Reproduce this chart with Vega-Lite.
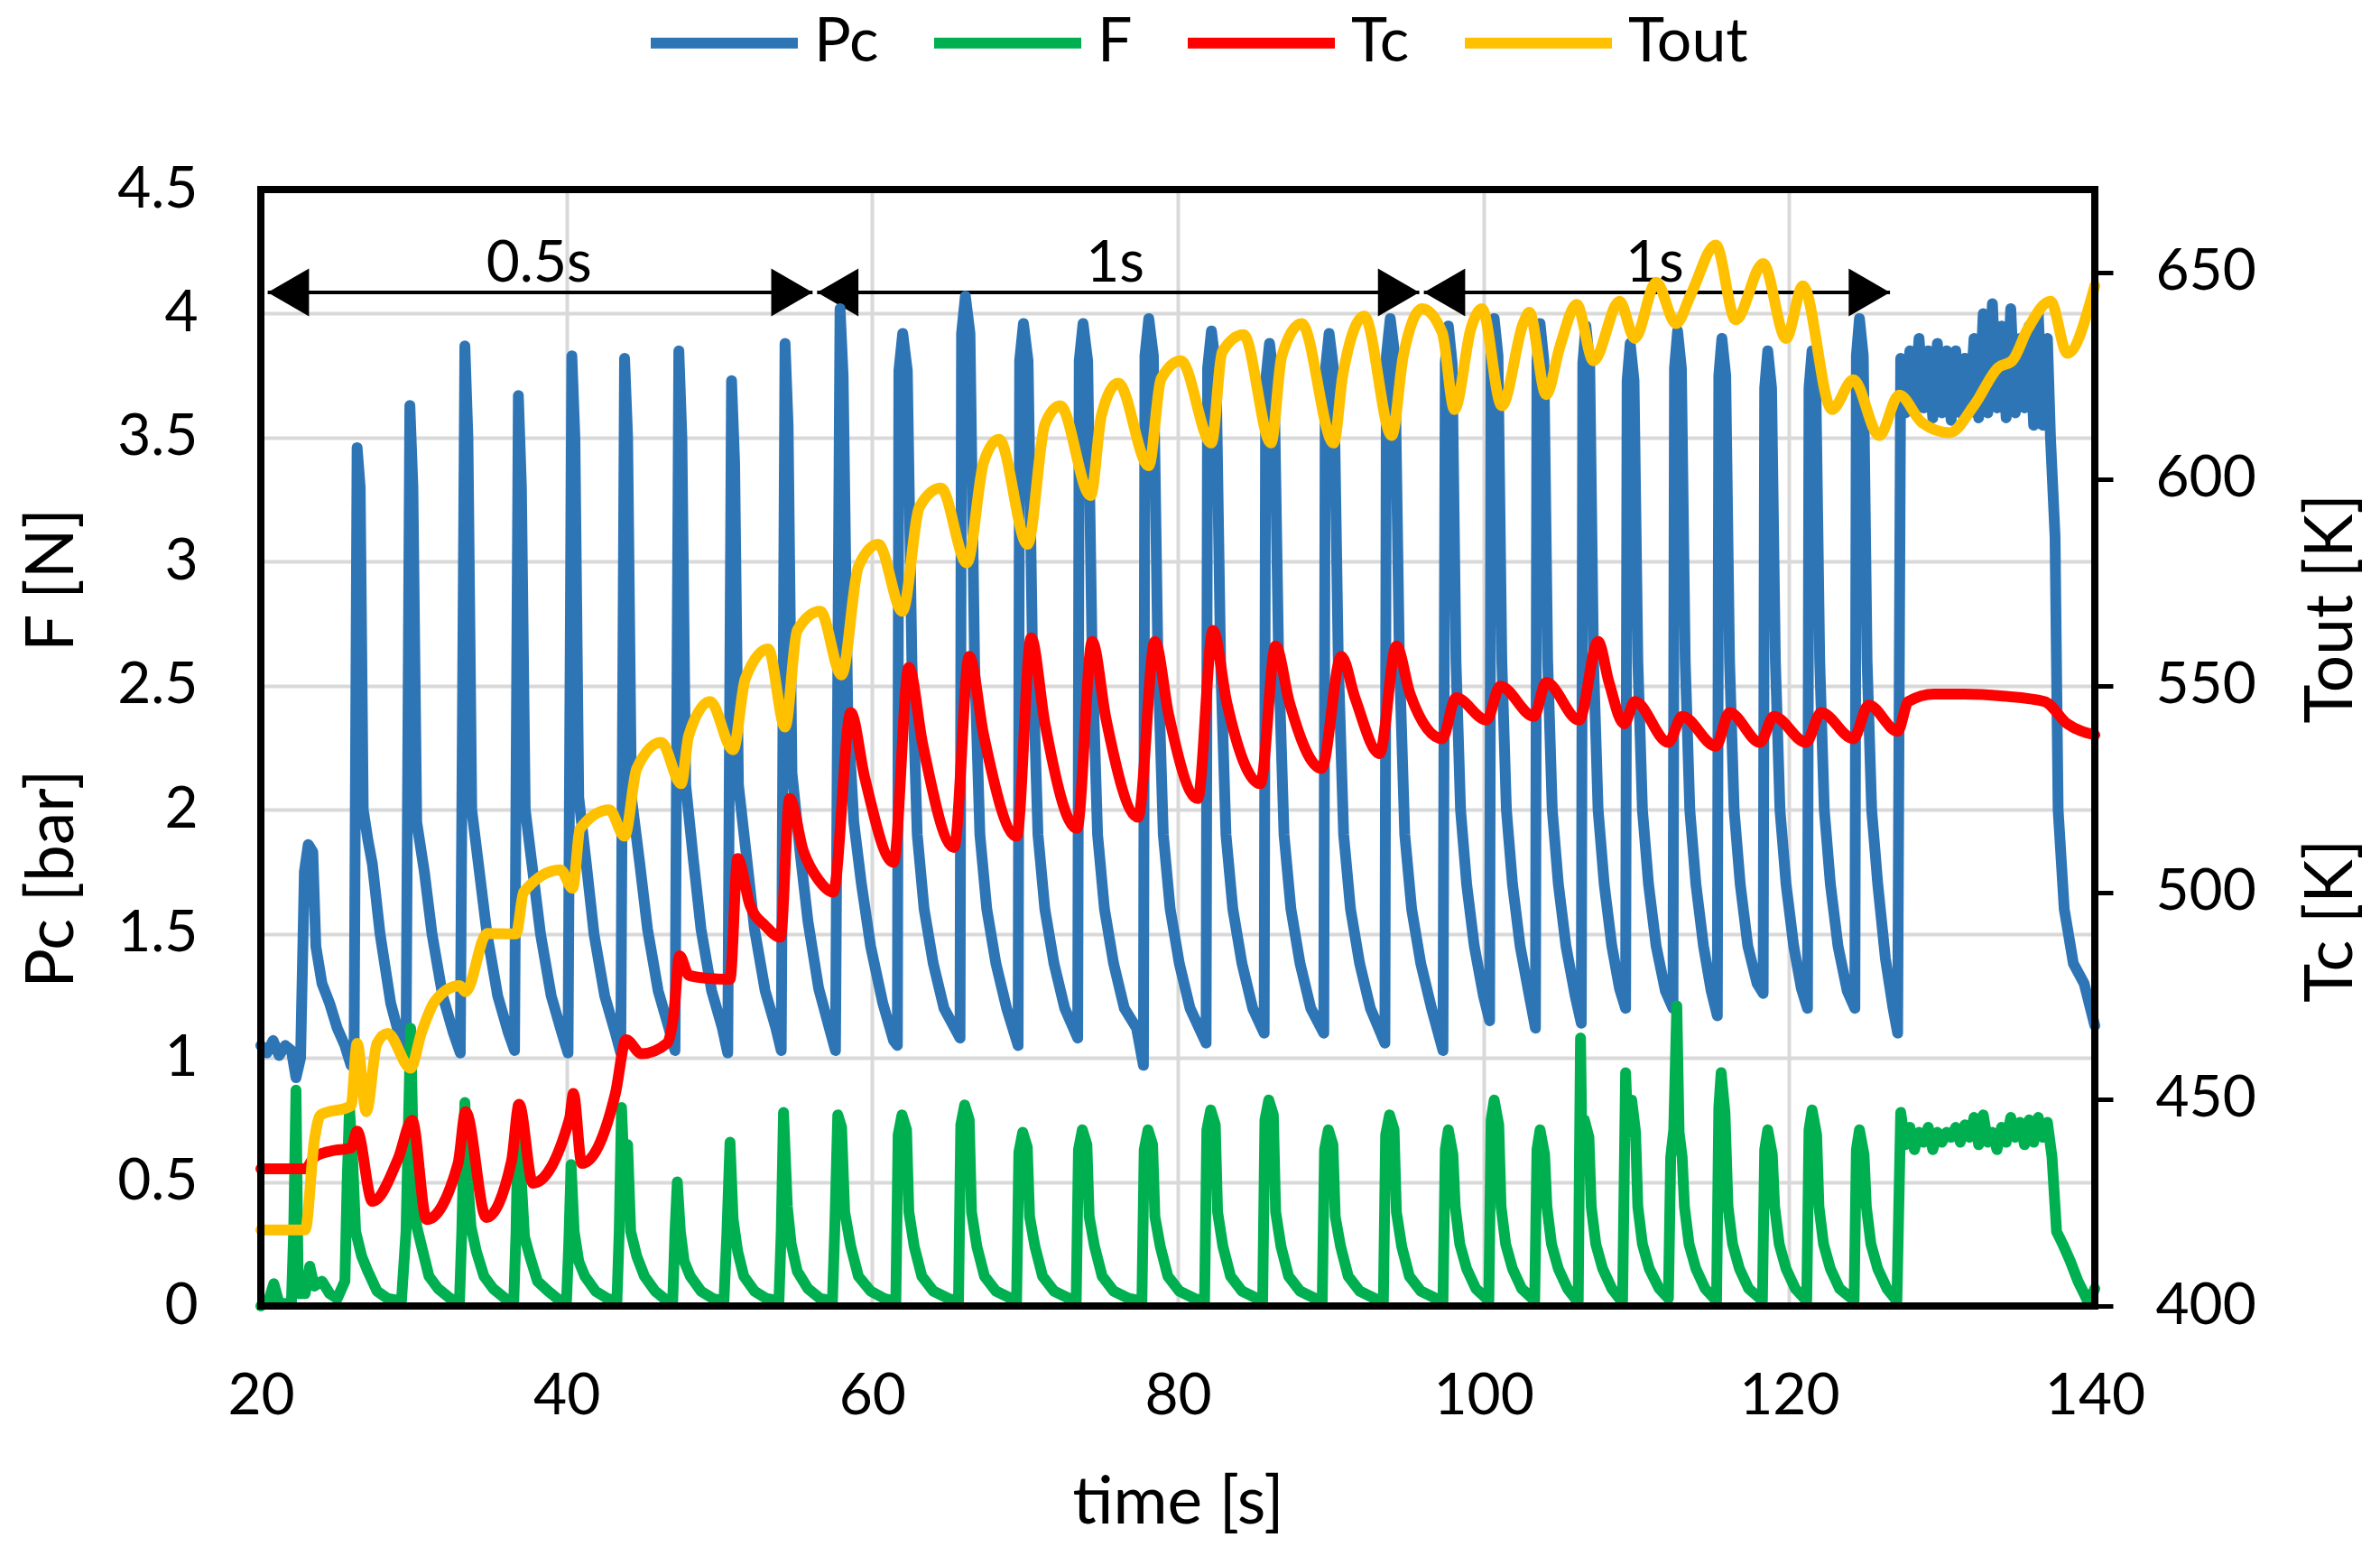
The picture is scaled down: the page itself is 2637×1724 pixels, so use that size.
{
"$schema":"https://vega.github.io/schema/vega-lite/v6.json",
"autosize":{"type":"none"},
"width":2032,"height":1237,
"padding":{"left":289,"top":210,"right":316,"bottom":277},
"background":"white",
"config":{
 "font":"Lato",
 "view":{"stroke":null},
 "axis":{"labelFont":"Lato","titleFont":"Lato","labelColor":"black","titleColor":"black","titleFontWeight":"normal","labelFontSize":64,"titleFontSize":73,"gridColor":"#d9d9d9","gridWidth":4,"domain":false,"ticks":false,"labelFlush":false,"labelOverlap":false},
 "legend":{"labelFont":"Lato","labelFontSize":68,"labelColor":"black"},
 "line":{"strokeWidth":12,"strokeJoin":"round","strokeCap":"round"}
},
"datasets":{
"pc":[
{"t":20,"v":1.05},{"t":20.4,"v":1.02},{"t":20.8,"v":1.07},{"t":21.2,"v":1.01},{"t":21.6,"v":1.05},{"t":22.0,"v":1.03},{"t":22.3,"v":0.92},{"t":22.6,"v":1.0},{"t":22.85,"v":1.75},{"t":23.1,"v":1.86},{"t":23.4,"v":1.83},{"t":23.6,"v":1.45},{"t":24.0,"v":1.3},{"t":24.5,"v":1.22},{"t":25.0,"v":1.12},{"t":25.5,"v":1.05},{"t":25.9,"v":0.97},{"t":26.1,"v":1.0},
{"t":26.3,"v":3.46},{"t":26.5,"v":3.3},{"t":26.7,"v":2.0},{"t":27.0,"v":1.88},{"t":27.3,"v":1.78},{"t":27.8,"v":1.5},{"t":28.5,"v":1.22},{"t":29.1,"v":1.08},{"t":29.5,"v":1.02},
{"t":29.75,"v":3.63},{"t":29.95,"v":3.3},{"t":30.2,"v":1.95},{"t":30.7,"v":1.75},{"t":31.2,"v":1.5},{"t":31.9,"v":1.25},{"t":32.6,"v":1.1},{"t":33.05,"v":1.02},
{"t":33.35,"v":3.87},{"t":33.55,"v":3.5},{"t":33.8,"v":2.0},{"t":34.3,"v":1.75},{"t":34.8,"v":1.5},{"t":35.5,"v":1.25},{"t":36.2,"v":1.1},{"t":36.6,"v":1.03},
{"t":36.85,"v":3.67},{"t":37.05,"v":3.3},{"t":37.3,"v":2.0},{"t":37.8,"v":1.75},{"t":38.3,"v":1.5},{"t":39.0,"v":1.25},{"t":39.7,"v":1.1},{"t":40.1,"v":1.02},
{"t":40.35,"v":3.83},{"t":40.55,"v":3.5},{"t":40.8,"v":2.05},{"t":41.3,"v":1.78},{"t":41.8,"v":1.5},{"t":42.5,"v":1.25},{"t":43.2,"v":1.1},{"t":43.55,"v":1.02},
{"t":43.8,"v":3.82},{"t":44.0,"v":3.5},{"t":44.25,"v":2.05},{"t":44.8,"v":1.78},{"t":45.3,"v":1.52},{"t":46.0,"v":1.27},{"t":46.7,"v":1.12},{"t":47.1,"v":1.03},
{"t":47.35,"v":3.85},{"t":47.55,"v":3.5},{"t":47.8,"v":2.1},{"t":48.3,"v":1.8},{"t":48.8,"v":1.52},{"t":49.5,"v":1.27},{"t":50.2,"v":1.12},{"t":50.55,"v":1.02},
{"t":50.8,"v":3.73},{"t":51.0,"v":3.4},{"t":51.25,"v":2.1},{"t":51.8,"v":1.8},{"t":52.3,"v":1.52},{"t":53.0,"v":1.27},{"t":53.7,"v":1.12},{"t":54.05,"v":1.03},
{"t":54.3,"v":3.88},{"t":54.5,"v":3.55},{"t":54.75,"v":2.15},{"t":55.3,"v":1.82},{"t":55.8,"v":1.55},{"t":56.5,"v":1.28},{"t":57.2,"v":1.12},{"t":57.6,"v":1.03},
{"t":57.9,"v":4.02},{"t":58.1,"v":3.75},{"t":58.4,"v":2.4},{"t":58.8,"v":1.95},{"t":59.3,"v":1.7},{"t":59.9,"v":1.45},{"t":60.7,"v":1.22},{"t":61.4,"v":1.07},{"t":61.65,"v":1.05},
{"t":61.75,"v":3.77},{"t":62.0,"v":3.92},{"t":62.3,"v":3.77},{"t":62.6,"v":2.6},{"t":62.95,"v":1.9},{"t":63.4,"v":1.6},{"t":64.0,"v":1.38},{"t":64.7,"v":1.2},{"t":65.75,"v":1.08},
{"t":65.85,"v":3.92},{"t":66.1,"v":4.07},{"t":66.4,"v":3.92},{"t":66.7,"v":2.6},{"t":67.05,"v":1.9},{"t":67.5,"v":1.6},{"t":68.1,"v":1.38},{"t":68.8,"v":1.2},{"t":69.55,"v":1.05},
{"t":69.65,"v":3.81},{"t":69.9,"v":3.96},{"t":70.2,"v":3.81},{"t":70.5,"v":2.6},{"t":70.85,"v":1.9},{"t":71.3,"v":1.6},{"t":71.9,"v":1.38},{"t":72.6,"v":1.2},{"t":73.45,"v":1.08},
{"t":73.55,"v":3.81},{"t":73.8,"v":3.96},{"t":74.1,"v":3.81},{"t":74.4,"v":2.6},{"t":74.75,"v":1.9},{"t":75.2,"v":1.6},{"t":75.8,"v":1.38},{"t":76.5,"v":1.2},{"t":77.3,"v":1.12},{"t":77.75,"v":0.97},
{"t":77.85,"v":3.83},{"t":78.1,"v":3.98},{"t":78.4,"v":3.83},{"t":78.7,"v":2.6},{"t":79.05,"v":1.9},{"t":79.5,"v":1.6},{"t":80.1,"v":1.38},{"t":80.8,"v":1.2},{"t":81.85,"v":1.06},
{"t":81.95,"v":3.78},{"t":82.2,"v":3.93},{"t":82.5,"v":3.78},{"t":82.8,"v":2.6},{"t":83.15,"v":1.9},{"t":83.6,"v":1.6},{"t":84.2,"v":1.38},{"t":84.9,"v":1.2},{"t":85.65,"v":1.1},
{"t":85.75,"v":3.73},{"t":86.0,"v":3.88},{"t":86.3,"v":3.73},{"t":86.6,"v":2.6},{"t":86.95,"v":1.9},{"t":87.4,"v":1.6},{"t":88.0,"v":1.38},{"t":88.7,"v":1.2},{"t":89.55,"v":1.1},
{"t":89.65,"v":3.77},{"t":89.9,"v":3.92},{"t":90.2,"v":3.77},{"t":90.5,"v":2.6},{"t":90.85,"v":1.9},{"t":91.3,"v":1.6},{"t":91.9,"v":1.38},{"t":92.6,"v":1.2},{"t":93.55,"v":1.06},
{"t":93.65,"v":3.83},{"t":93.9,"v":3.98},{"t":94.2,"v":3.83},{"t":94.5,"v":2.6},{"t":94.85,"v":1.9},{"t":95.3,"v":1.6},{"t":95.9,"v":1.38},{"t":96.6,"v":1.2},{"t":97.35,"v":1.03},
{"t":97.5,"v":3.8},{"t":97.7,"v":3.95},{"t":97.95,"v":3.8},{"t":98.2,"v":2.6},{"t":98.5,"v":2.0},{"t":98.9,"v":1.7},{"t":99.4,"v":1.45},{"t":100.0,"v":1.25},{"t":100.4,"v":1.15},
{"t":100.5,"v":3.83},{"t":100.7,"v":3.98},{"t":100.95,"v":3.83},{"t":101.2,"v":2.6},{"t":101.5,"v":2.0},{"t":101.9,"v":1.7},{"t":102.4,"v":1.45},{"t":103.0,"v":1.25},{"t":103.4,"v":1.12},
{"t":103.5,"v":3.81},{"t":103.7,"v":3.96},{"t":103.95,"v":3.81},{"t":104.2,"v":2.6},{"t":104.5,"v":2.0},{"t":104.9,"v":1.7},{"t":105.4,"v":1.45},{"t":106.0,"v":1.25},{"t":106.4,"v":1.14},
{"t":106.5,"v":3.8},{"t":106.7,"v":3.95},{"t":106.95,"v":3.8},{"t":107.2,"v":2.6},{"t":107.5,"v":2.0},{"t":107.9,"v":1.7},{"t":108.4,"v":1.45},{"t":108.9,"v":1.28},{"t":109.3,"v":1.2},
{"t":109.4,"v":3.73},{"t":109.6,"v":3.88},{"t":109.85,"v":3.73},{"t":110.1,"v":2.6},{"t":110.4,"v":2.0},{"t":110.8,"v":1.7},{"t":111.3,"v":1.45},{"t":111.9,"v":1.27},{"t":112.4,"v":1.2},
{"t":112.5,"v":3.78},{"t":112.7,"v":3.93},{"t":112.95,"v":3.78},{"t":113.2,"v":2.6},{"t":113.5,"v":2.0},{"t":113.9,"v":1.7},{"t":114.4,"v":1.45},{"t":114.9,"v":1.27},{"t":115.3,"v":1.17},
{"t":115.4,"v":3.75},{"t":115.6,"v":3.9},{"t":115.85,"v":3.75},{"t":116.1,"v":2.6},{"t":116.4,"v":2.0},{"t":116.8,"v":1.7},{"t":117.3,"v":1.45},{"t":117.9,"v":1.3},{"t":118.3,"v":1.26},
{"t":118.4,"v":3.7},{"t":118.6,"v":3.85},{"t":118.85,"v":3.7},{"t":119.1,"v":2.6},{"t":119.4,"v":2.0},{"t":119.8,"v":1.7},{"t":120.3,"v":1.45},{"t":120.8,"v":1.28},{"t":121.2,"v":1.2},
{"t":121.3,"v":3.7},{"t":121.5,"v":3.85},{"t":121.75,"v":3.7},{"t":122.0,"v":2.6},{"t":122.3,"v":2.0},{"t":122.7,"v":1.7},{"t":123.2,"v":1.45},{"t":123.8,"v":1.27},{"t":124.3,"v":1.2},
{"t":124.4,"v":3.83},{"t":124.6,"v":3.98},{"t":124.85,"v":3.83},{"t":125.1,"v":2.6},{"t":125.4,"v":2.0},{"t":125.8,"v":1.7},{"t":126.3,"v":1.4},{"t":126.8,"v":1.2},{"t":127.1,"v":1.1},
{"t":127.3,"v":3.82},{"t":127.6,"v":3.6},{"t":127.9,"v":3.85},{"t":128.2,"v":3.6},{"t":128.5,"v":3.9},{"t":128.8,"v":3.62},{"t":129.1,"v":3.85},{"t":129.4,"v":3.58},{"t":129.7,"v":3.88},{"t":130.0,"v":3.6},{"t":130.3,"v":3.85},{"t":130.6,"v":3.57},{"t":130.9,"v":3.85},{"t":131.2,"v":3.6},{"t":131.5,"v":3.82},{"t":131.8,"v":3.6},{"t":132.1,"v":3.9},{"t":132.4,"v":3.58},{"t":132.7,"v":4.0},{"t":133.0,"v":3.6},{"t":133.3,"v":4.04},{"t":133.6,"v":3.62},{"t":133.9,"v":3.95},{"t":134.2,"v":3.58},{"t":134.5,"v":4.02},{"t":134.8,"v":3.6},{"t":135.1,"v":3.9},{"t":135.4,"v":3.62},{"t":135.7,"v":3.95},{"t":136.0,"v":3.55},{"t":136.3,"v":4.0},{"t":136.6,"v":3.55},{"t":136.9,"v":3.9},{"t":137.1,"v":3.5},
{"t":137.4,"v":3.1},{"t":137.6,"v":2.0},{"t":138.0,"v":1.6},{"t":138.6,"v":1.38},{"t":139.3,"v":1.3},{"t":140.0,"v":1.13}
],
"f":[
{"t":20,"v":0.0},{"t":20.5,"v":0.02},{"t":20.85,"v":0.09},{"t":21.2,"v":0.01},{"t":22.0,"v":0.01},{"t":22.15,"v":0.3},{"t":22.3,"v":0.87},{"t":22.45,"v":0.05},{"t":22.9,"v":0.05},{"t":23.2,"v":0.16},{"t":23.5,"v":0.08},{"t":24.0,"v":0.1},{"t":24.5,"v":0.05},{"t":25.0,"v":0.03},{"t":25.5,"v":0.1},
{"t":25.65,"v":0.5},{"t":25.8,"v":0.8},{"t":26.0,"v":0.6},{"t":26.2,"v":0.3},{"t":26.6,"v":0.2},{"t":27.0,"v":0.14},{"t":27.6,"v":0.06},{"t":28.3,"v":0.03},{"t":29.2,"v":0.02},
{"t":29.5,"v":0.3},{"t":29.8,"v":1.12},{"t":30.0,"v":0.55},{"t":30.2,"v":0.32},{"t":30.6,"v":0.22},{"t":31.0,"v":0.12},{"t":31.6,"v":0.07},{"t":32.4,"v":0.03},{"t":33.0,"v":0.02},
{"t":33.15,"v":0.3},{"t":33.35,"v":0.82},{"t":33.55,"v":0.5},{"t":33.75,"v":0.32},{"t":34.1,"v":0.22},{"t":34.6,"v":0.12},{"t":35.2,"v":0.07},{"t":36.0,"v":0.03},{"t":36.55,"v":0.02},
{"t":36.7,"v":0.3},{"t":36.85,"v":0.81},{"t":37.05,"v":0.5},{"t":37.25,"v":0.28},{"t":37.6,"v":0.2},{"t":38.1,"v":0.1},{"t":38.8,"v":0.06},{"t":39.6,"v":0.02},{"t":40.0,"v":0.02},
{"t":40.15,"v":0.25},{"t":40.3,"v":0.57},{"t":40.5,"v":0.3},{"t":40.8,"v":0.18},{"t":41.2,"v":0.12},{"t":41.9,"v":0.06},{"t":42.7,"v":0.03},{"t":43.3,"v":0.02},
{"t":43.45,"v":0.3},{"t":43.6,"v":0.8},{"t":43.8,"v":0.5},{"t":44.0,"v":0.65},{"t":44.2,"v":0.3},{"t":44.6,"v":0.2},{"t":45.1,"v":0.12},{"t":45.8,"v":0.06},{"t":46.6,"v":0.02},{"t":46.95,"v":0.02},
{"t":47.1,"v":0.3},{"t":47.25,"v":0.5},{"t":47.45,"v":0.3},{"t":47.7,"v":0.18},{"t":48.1,"v":0.12},{"t":48.8,"v":0.06},{"t":49.6,"v":0.03},{"t":50.3,"v":0.02},
{"t":50.5,"v":0.3},{"t":50.7,"v":0.66},{"t":50.9,"v":0.35},{"t":51.2,"v":0.22},{"t":51.6,"v":0.12},{"t":52.3,"v":0.06},{"t":53.1,"v":0.03},{"t":53.9,"v":0.02},
{"t":54.05,"v":0.3},{"t":54.2,"v":0.78},{"t":54.45,"v":0.4},{"t":54.7,"v":0.25},{"t":55.1,"v":0.14},{"t":55.8,"v":0.07},{"t":56.6,"v":0.03},{"t":57.4,"v":0.02},
{"t":57.55,"v":0.3},{"t":57.75,"v":0.77},{"t":58.0,"v":0.72},{"t":58.2,"v":0.38},{"t":58.6,"v":0.24},{"t":59.1,"v":0.12},{"t":59.9,"v":0.06},{"t":60.8,"v":0.03},
{"t":61.55,"v":0.02},{"t":61.7,"v":0.69},{"t":61.95,"v":0.77},{"t":62.25,"v":0.71},{"t":62.4,"v":0.38},{"t":62.75,"v":0.24},{"t":63.25,"v":0.12},{"t":64.0,"v":0.06},{"t":65.0,"v":0.03},
{"t":65.65,"v":0.02},{"t":65.8,"v":0.73},{"t":66.05,"v":0.81},{"t":66.35,"v":0.75},{"t":66.5,"v":0.38},{"t":66.85,"v":0.24},{"t":67.35,"v":0.12},{"t":68.1,"v":0.06},{"t":69.1,"v":0.03},
{"t":69.45,"v":0.02},{"t":69.6,"v":0.62},{"t":69.85,"v":0.7},{"t":70.15,"v":0.64},{"t":70.3,"v":0.36},{"t":70.65,"v":0.24},{"t":71.15,"v":0.12},{"t":71.9,"v":0.06},{"t":72.9,"v":0.03},
{"t":73.35,"v":0.02},{"t":73.5,"v":0.63},{"t":73.75,"v":0.71},{"t":74.05,"v":0.65},{"t":74.2,"v":0.36},{"t":74.55,"v":0.24},{"t":75.05,"v":0.12},{"t":75.8,"v":0.06},{"t":76.8,"v":0.03},
{"t":77.65,"v":0.02},{"t":77.8,"v":0.63},{"t":78.05,"v":0.71},{"t":78.35,"v":0.65},{"t":78.5,"v":0.36},{"t":78.85,"v":0.24},{"t":79.35,"v":0.12},{"t":80.1,"v":0.06},{"t":81.1,"v":0.03},
{"t":81.75,"v":0.02},{"t":81.9,"v":0.71},{"t":82.15,"v":0.79},{"t":82.45,"v":0.73},{"t":82.6,"v":0.38},{"t":82.95,"v":0.24},{"t":83.45,"v":0.12},{"t":84.2,"v":0.06},{"t":85.2,"v":0.03},
{"t":85.55,"v":0.02},{"t":85.7,"v":0.75},{"t":85.95,"v":0.83},{"t":86.25,"v":0.77},{"t":86.4,"v":0.38},{"t":86.75,"v":0.24},{"t":87.25,"v":0.12},{"t":88.0,"v":0.06},{"t":89.0,"v":0.03},
{"t":89.45,"v":0.02},{"t":89.6,"v":0.63},{"t":89.85,"v":0.71},{"t":90.15,"v":0.65},{"t":90.3,"v":0.36},{"t":90.65,"v":0.24},{"t":91.15,"v":0.12},{"t":91.9,"v":0.06},{"t":92.9,"v":0.03},
{"t":93.45,"v":0.02},{"t":93.6,"v":0.69},{"t":93.85,"v":0.77},{"t":94.15,"v":0.71},{"t":94.3,"v":0.38},{"t":94.65,"v":0.24},{"t":95.15,"v":0.12},{"t":95.9,"v":0.06},{"t":96.9,"v":0.03},
{"t":97.35,"v":0.02},{"t":97.5,"v":0.63},{"t":97.7,"v":0.71},{"t":98.0,"v":0.61},{"t":98.15,"v":0.4},{"t":98.45,"v":0.25},{"t":98.9,"v":0.15},{"t":99.5,"v":0.07},{"t":100.2,"v":0.03},
{"t":100.35,"v":0.02},{"t":100.5,"v":0.75},{"t":100.7,"v":0.83},{"t":101.0,"v":0.73},{"t":101.15,"v":0.4},{"t":101.45,"v":0.25},{"t":101.9,"v":0.15},{"t":102.5,"v":0.07},{"t":103.2,"v":0.03},
{"t":103.35,"v":0.02},{"t":103.5,"v":0.63},{"t":103.7,"v":0.71},{"t":104.0,"v":0.61},{"t":104.15,"v":0.4},{"t":104.45,"v":0.25},{"t":104.9,"v":0.15},{"t":105.5,"v":0.07},{"t":106.0,"v":0.03},
{"t":106.2,"v":0.02},{"t":106.35,"v":1.08},{"t":106.45,"v":0.6},{"t":106.6,"v":0.75},{"t":106.9,"v":0.68},{"t":107.05,"v":0.4},{"t":107.35,"v":0.25},{"t":107.8,"v":0.15},{"t":108.4,"v":0.07},{"t":108.9,"v":0.03},
{"t":109.1,"v":0.02},{"t":109.3,"v":0.94},{"t":109.45,"v":0.7},{"t":109.7,"v":0.83},{"t":109.95,"v":0.7},{"t":110.1,"v":0.4},{"t":110.4,"v":0.25},{"t":110.85,"v":0.15},{"t":111.5,"v":0.07},{"t":112.1,"v":0.03},
{"t":112.25,"v":0.6},{"t":112.45,"v":0.71},{"t":112.65,"v":1.21},{"t":112.8,"v":0.7},{"t":113.0,"v":0.6},{"t":113.15,"v":0.4},{"t":113.45,"v":0.25},{"t":113.9,"v":0.15},{"t":114.5,"v":0.07},{"t":115.1,"v":0.03},
{"t":115.25,"v":0.02},{"t":115.4,"v":0.8},{"t":115.55,"v":0.94},{"t":115.8,"v":0.78},{"t":116.0,"v":0.4},{"t":116.3,"v":0.25},{"t":116.75,"v":0.15},{"t":117.35,"v":0.07},{"t":118.1,"v":0.03},
{"t":118.25,"v":0.02},{"t":118.4,"v":0.63},{"t":118.6,"v":0.71},{"t":118.9,"v":0.61},{"t":119.05,"v":0.4},{"t":119.35,"v":0.25},{"t":119.8,"v":0.15},{"t":120.4,"v":0.07},{"t":121.0,"v":0.03},
{"t":121.15,"v":0.02},{"t":121.3,"v":0.71},{"t":121.5,"v":0.79},{"t":121.8,"v":0.69},{"t":121.95,"v":0.4},{"t":122.25,"v":0.25},{"t":122.7,"v":0.15},{"t":123.3,"v":0.07},{"t":124.1,"v":0.03},
{"t":124.25,"v":0.02},{"t":124.4,"v":0.63},{"t":124.6,"v":0.71},{"t":124.9,"v":0.61},{"t":125.05,"v":0.4},{"t":125.35,"v":0.25},{"t":125.8,"v":0.15},{"t":126.4,"v":0.07},{"t":127.05,"v":0.02},
{"t":127.3,"v":0.78},{"t":127.6,"v":0.65},{"t":127.9,"v":0.72},{"t":128.2,"v":0.63},{"t":128.5,"v":0.7},{"t":128.8,"v":0.66},{"t":129.1,"v":0.72},{"t":129.4,"v":0.63},{"t":129.7,"v":0.7},{"t":130.0,"v":0.66},{"t":130.3,"v":0.7},{"t":130.6,"v":0.68},{"t":130.9,"v":0.72},{"t":131.2,"v":0.66},{"t":131.5,"v":0.73},{"t":131.8,"v":0.68},{"t":132.1,"v":0.76},{"t":132.4,"v":0.65},{"t":132.7,"v":0.77},{"t":133.0,"v":0.66},{"t":133.3,"v":0.7},{"t":133.6,"v":0.63},{"t":133.9,"v":0.72},{"t":134.2,"v":0.66},{"t":134.5,"v":0.76},{"t":134.8,"v":0.68},{"t":135.1,"v":0.74},{"t":135.4,"v":0.65},{"t":135.7,"v":0.75},{"t":136.0,"v":0.66},{"t":136.3,"v":0.76},{"t":136.6,"v":0.68},{"t":136.9,"v":0.74},{"t":137.2,"v":0.6},
{"t":137.5,"v":0.3},{"t":137.9,"v":0.25},{"t":138.4,"v":0.18},{"t":138.9,"v":0.1},{"t":139.3,"v":0.05},{"t":139.6,"v":0.01},{"t":140.0,"v":0.07}
],
"tc":[
{"t":20,"v":433.2},{"t":22.9,"v":433.2},{"t":23.5,"v":436},{"t":24.6,"v":437.5},{"t":25.9,"v":438.2},{"t":26.3,"v":442.3},{"t":27.3,"v":425.3},{"t":29.0,"v":435.8},{"t":29.9,"v":444.9},{"t":30.85,"v":420.9},{"t":32.9,"v":434.4},{"t":33.4,"v":447.0},{"t":34.75,"v":421.4},{"t":36.4,"v":435},{"t":36.9,"v":448.8},{"t":37.8,"v":429.7},{"t":40.2,"v":445.3},{"t":40.45,"v":451.4},{"t":41.0,"v":434.5},{"t":43.2,"v":451.4},{"t":43.9,"v":464.4},{"t":44.9,"v":461},{"t":46.6,"v":463.6},{"t":47.0,"v":470},{"t":47.4,"v":484.7},{"t":48.0,"v":480},{"t":49.1,"v":479.3},{"t":50.7,"v":479},{"t":51.2,"v":508.2},{"t":52.0,"v":497},{"t":53.0,"v":492},{"t":54.0,"v":489.2},{"t":54.6,"v":522.7},{"t":55.5,"v":510},{"t":56.5,"v":503},{"t":57.45,"v":500.1},
{"t":58.6,"v":543.5},{"t":59.5,"v":528},{"t":61.4,"v":507.3},{"t":62.4,"v":554.4},{"t":63.3,"v":536},{"t":65.36,"v":510.9},{"t":66.35,"v":557.1},{"t":67.3,"v":538},{"t":69.46,"v":513.6},{"t":70.4,"v":561.6},{"t":71.3,"v":541},{"t":73.4,"v":515.5},{"t":74.4,"v":560.7},{"t":75.3,"v":542},{"t":77.4,"v":518.2},{"t":78.5,"v":560.7},{"t":79.4,"v":543},{"t":81.3,"v":522.7},{"t":82.3,"v":563.4},{"t":83.2,"v":546},{"t":85.4,"v":526.3},{"t":86.4,"v":559.6},{"t":87.3,"v":546},{"t":89.4,"v":530},{"t":90.7,"v":557.1},{"t":91.6,"v":547},{"t":93.2,"v":533.6},{"t":94.3,"v":559.6},{"t":95.2,"v":548},{"t":97.3,"v":537.2},
{"t":98.2,"v":547.1},{"t":100.2,"v":541.7},{"t":101.1,"v":549.9},{"t":103.3,"v":542.6},{"t":104.1,"v":550.8},{"t":106.25,"v":541.7},{"t":107.5,"v":560.7},{"t":108.2,"v":551},{"t":109.2,"v":540.8},{"t":109.9,"v":546.2},{"t":112.1,"v":536.3},{"t":113.0,"v":542.6},{"t":115.2,"v":535.4},{"t":116.1,"v":543.5},{"t":118.1,"v":536.3},{"t":119.0,"v":542.6},{"t":121.1,"v":536.3},{"t":122.1,"v":543.5},{"t":124.2,"v":537.2},{"t":125.2,"v":545.3},{"t":127.1,"v":539},{"t":127.8,"v":546.2},{"t":129.5,"v":548},{"t":131.5,"v":548},{"t":134,"v":547.5},{"t":136.7,"v":546.2},{"t":138.2,"v":540.8},{"t":140.0,"v":538.1}
],
"tout":[
{"t":20,"v":418.4},{"t":22.9,"v":418.4},{"t":23.5,"v":440},{"t":23.9,"v":446.2},{"t":25.9,"v":448.4},{"t":26.3,"v":463.5},{"t":26.9,"v":447},{"t":27.6,"v":463.5},{"t":28.3,"v":465.9},{"t":29.8,"v":457.5},{"t":30.5,"v":466},{"t":31.4,"v":473.8},{"t":33.0,"v":477.5},{"t":33.4,"v":476},{"t":34.8,"v":490.1},{"t":36.7,"v":490},{"t":37.2,"v":500.1},{"t":39.6,"v":505.5},{"t":40.4,"v":501},{"t":40.9,"v":515.5},{"t":42.8,"v":520},{"t":43.8,"v":513.6},{"t":44.6,"v":530},{"t":46.2,"v":536.3},{"t":47.5,"v":526.3},{"t":48.0,"v":538},{"t":49.4,"v":546.2},{"t":50.9,"v":534.5},{"t":51.7,"v":551.7},{"t":53.2,"v":558.9},{"t":54.3,"v":540},{"t":55.1,"v":563.4},{"t":56.6,"v":568},{"t":58.0,"v":552.6},
{"t":59.1,"v":578.8},{"t":60.4,"v":584.2},{"t":61.98,"v":568},{"t":63.1,"v":593.3},{"t":64.5,"v":597.8},{"t":66.2,"v":579.7},{"t":67.3,"v":604.1},{"t":68.3,"v":609.6},{"t":70.17,"v":584.2},{"t":71.3,"v":613.2},{"t":72.3,"v":617.7},{"t":74.3,"v":596},{"t":75.0,"v":615.4},{"t":76.1,"v":623.2},{"t":78.1,"v":603.2},{"t":78.9,"v":624.2},{"t":80.2,"v":628.6},{"t":82.2,"v":608.7},{"t":82.9,"v":630.7},{"t":84.3,"v":634.9},{"t":86.1,"v":608.7},{"t":86.8,"v":629.7},{"t":88.1,"v":637.6},{"t":90.2,"v":608.7},{"t":90.8,"v":625.3},{"t":92.2,"v":639.4},{"t":94.0,"v":610.5},{"t":94.75,"v":629.7},{"t":96.0,"v":641.2},{"t":97.3,"v":635.4},{"t":98.1,"v":616.8},
{"t":99.2,"v":636.7},{"t":99.9,"v":641.2},{"t":101.2,"v":617.7},{"t":102.6,"v":637.6},{"t":103.0,"v":640.3},{"t":104.1,"v":620.4},{"t":105.0,"v":632},{"t":106.1,"v":642.2},{"t":107.2,"v":628.6},{"t":108.9,"v":643},{"t":109.9,"v":634},{"t":111.3,"v":647.6},{"t":112.6,"v":637.6},{"t":113.6,"v":644.9},{"t":115.2,"v":656.6},{"t":116.5,"v":638.5},{"t":118.3,"v":652.1},{"t":119.8,"v":634},{"t":120.9,"v":646.7},{"t":122.8,"v":616.8},{"t":124.2,"v":624},{"t":125.9,"v":610.5},{"t":127.2,"v":620.3},{"t":128.7,"v":613.6},{"t":130.5,"v":611.2},{"t":132.1,"v":617.8},{"t":133.7,"v":627},{"t":134.6,"v":628.6},{"t":135.6,"v":636.2},{"t":137.1,"v":643},{"t":138.2,"v":630.4},{"t":140.0,"v":646.7}
],
"frame":[{"t":20,"t2":140,"v":400,"v2":670}],
"arrows":[{"t":20.45,"t2":56.1,"v":4.085},{"t":56.4,"t2":95.8,"v":4.085},{"t":96.1,"t2":126.6,"v":4.085}],
"heads":[{"t":21.8,"v":4.085,"d":"L"},{"t":57.75,"v":4.085,"d":"L"},{"t":97.45,"v":4.085,"d":"L"},{"t":54.75,"v":4.085,"d":"R"},{"t":94.45,"v":4.085,"d":"R"},{"t":125.25,"v":4.085,"d":"R"}],
"labels":[{"t":38.2,"v":4.13,"label":"0.5s"},{"t":75.9,"v":4.13,"label":"1s"},{"t":111.2,"v":4.13,"label":"1s"}]
},
"encoding":{
 "x":{"field":"t","type":"quantitative","scale":{"domain":[20,140],"nice":false,"zero":false},
  "axis":{"values":[20,40,60,80,100,120,140],"title":"time [s]","grid":true,"labelPadding":68,"titleY":240,"titleBaseline":"alphabetic"}}
},
"layer":[
 {
  "encoding":{"y":{"field":"v","type":"quantitative","scale":{"domain":[0,4.5],"nice":false},
   "axis":{"orient":"left","values":[0,0.5,1,1.5,2,2.5,3,3.5,4,4.5],"format":"~g","grid":true,"labelPadding":70,
    "title":"Pc [bar]\u00a0\u00a0\u00a0\u00a0\u00a0\u00a0\u00a0F [N]","titleAngle":270,"titleX":-209,"titleY":618.5,"titleBaseline":"alphabetic","titleAlign":"center"}}},
  "layer":[
   {"data":{"name":"labels"},"mark":{"type":"text","fontSize":64,"font":"Lato","color":"black","baseline":"alphabetic","align":"center"},"encoding":{"text":{"field":"label"}}},
   {"data":{"name":"arrows"},"mark":{"type":"rule","color":"black","strokeWidth":4},"encoding":{"x2":{"field":"t2"}}},
   {"data":{"name":"heads"},"mark":{"type":"point","filled":true,"color":"black","opacity":1,"size":2800,"strokeWidth":0},
    "encoding":{"shape":{"field":"d","type":"nominal","scale":{"domain":["L","R"],"range":["triangle-left","triangle-right"]},"legend":null}}},
   {"data":{"name":"pc"},"mark":{"type":"line"},
    "encoding":{"color":{"datum":"Pc","type":"nominal","scale":{"domain":["Pc","F","Tc","Tout"],"range":["#2E75B6","#00B050","#FF0000","#FFC000"]},
     "legend":{"title":null,"orient":"none","direction":"horizontal","legendX":426,"legendY":-250,"symbolType":"stroke","symbolSize":26569,"symbolStrokeWidth":13,"labelFontSize":68,"labelOffset":12,"columnPadding":55,"padding":0}}}},
   {"data":{"name":"f"},"mark":{"type":"line"},
    "encoding":{"color":{"datum":"F","type":"nominal"}}}
  ]
 },
 {
  "encoding":{"y":{"field":"v","type":"quantitative","scale":{"domain":[400,670],"nice":false,"zero":false},
   "axis":{"orient":"right","values":[400,450,500,550,600,650],"grid":false,"ticks":true,"tickSize":20,"tickWidth":5,"tickColor":"black","labelPadding":47,
    "title":"Tc [K]\u00a0\u00a0\u00a0\u00a0\u00a0\u00a0\u00a0Tout [K]","titleAngle":270,"titleX":284,"titleY":618.5,"titleBaseline":"alphabetic","titleAlign":"center"}}},
  "layer":[
   {"data":{"name":"tc"},"mark":{"type":"line","interpolate":"monotone"},"encoding":{"color":{"datum":"Tc","type":"nominal"}}},
   {"data":{"name":"tout"},"mark":{"type":"line","interpolate":"monotone"},"encoding":{"color":{"datum":"Tout","type":"nominal"}}},
   {"data":{"name":"frame"},"mark":{"type":"rect","fill":null,"fillOpacity":0,"stroke":"black","strokeWidth":8},"encoding":{"x2":{"field":"t2"},"y2":{"field":"v2"}}}
  ]
 }
],
"resolve":{"scale":{"y":"independent"}}
}
